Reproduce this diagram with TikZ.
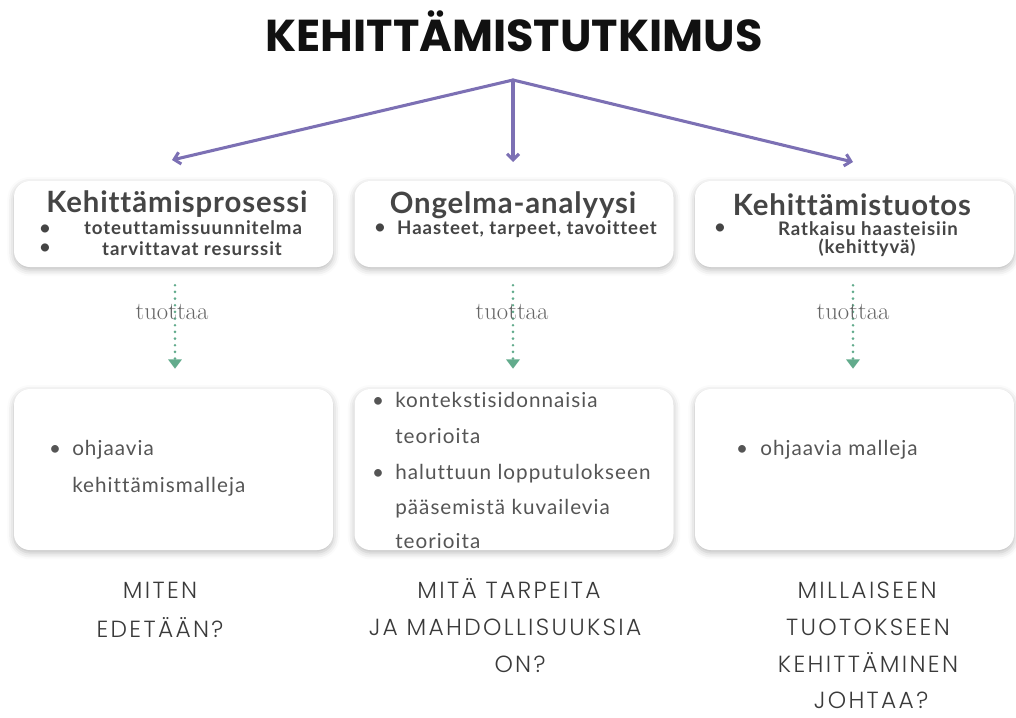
\documentclass[tikz,border=0pt]{standalone}
\usepackage{fontspec}
\setmainfont{Lato}[Ligatures={NoCommon}]
\newfontfamily\titlefont{Poppins}
\newfontfamily\headfont{Lato}[LetterSpace=3, Ligatures={NoCommon}]
\newfontfamily\subfont{Lato}[LetterSpace=5, Ligatures={NoCommon}]
\newfontfamily\bodyfont{Lato}[LetterSpace=5, Ligatures={NoCommon}]
\newfontfamily\capsfont{Poppins Light}[LetterSpace=10]
\newfontfamily\verbfont{Latin Modern Roman}
\usetikzlibrary{shadows.blur,arrows.meta}
\definecolor{titleink}{HTML}{111111}
\definecolor{headink}{HTML}{454545}
\definecolor{bodyink}{HTML}{555555}
\definecolor{askink}{HTML}{3A3A3A}
\definecolor{flow}{HTML}{7C70B4}
\definecolor{yield}{HTML}{62AB8C}
\tikzset{
  card/.style={draw=none, fill=white, rounded corners=12pt,
    minimum width=239.25pt, inner sep=0pt,
    blur shadow={shadow xshift=0pt, shadow yshift=-2pt,
      shadow blur radius=5pt, shadow opacity=28}},
  topcard/.style={card, minimum height=64.5pt},
  lowcard/.style={card, minimum height=120.75pt},
  head/.style={anchor=base, text=headink, font=\headfont\bfseries\fontsize{22}{26}\selectfont, inner sep=0pt},
  sub/.style={anchor=base, text=headink, font=\subfont\bfseries\fontsize{14}{16}\selectfont, inner sep=0pt},
  body/.style={anchor=base west, text=bodyink, font=\bodyfont\fontsize{15.5}{18}\selectfont, inner sep=0pt},
  dotb/.style={anchor=base, text=bodyink, font=\fontsize{15.5}{18}\selectfont, inner sep=0pt},
  ask/.style={anchor=base, text=askink, font=\capsfont\fontsize{17.5}{21}\selectfont, inner sep=0pt},
  verb/.style={anchor=base, text=bodyink!90, font=\verbfont\fontsize{18.5}{22}\selectfont, inner sep=0pt},
  branch/.style={draw=flow, line width=2.3pt, line cap=round, line join=round,
    -{Straight Barb[length=4.5pt,width=9pt,line width=2.3pt]}},
  produces/.style={draw=yield, line width=2.2pt, line cap=round,
    dash pattern=on 0pt off 5pt,
    -{Triangle[length=7pt,width=10pt,line cap=butt]}},
}
\begin{document}
\begin{tikzpicture}[x=0.75pt,y=-0.75pt]
\useasboundingbox (0,0) rectangle (1016,717);

% title and its three branches
\node[anchor=base, text=titleink, inner sep=0pt,
  font=\titlefont\bfseries\fontsize{33.5}{38}\selectfont] (title) at (514,52) {KEHITTÄMISTUTKIMUS};
\coordinate (hub) at (513,80);
\coordinate (tipA) at (172,160);
\coordinate (tipB) at (513,162);
\coordinate (tipC) at (853,162);
\draw[branch] (hub) -- (tipA);
\draw[branch] (hub) -- (tipB);
\draw[branch] (hub) -- (tipC);

% upper cards
\node[topcard] (p1) at (173.5,224) {};
\node[topcard] (p2) at (514,224) {};
\node[topcard] (p3) at (854.5,224) {};

\node[head] (h1) at (177,212) {Kehittämisprosessi};
\node[sub] (b1a) at (45,234) {•};
\node[sub] (s1a) at (193,234) {toteuttamissuunnitelma};
\node[sub] (b1b) at (45,253) {•};
\node[sub] (s1b) at (192,255) {tarvittavat resurssit};

\node[head] (h2) at (513,213) {Ongelma-analyysi};
\node[sub] (b2a) at (380,233) {•};
\node[sub] (s2a) at (527,234) {Haasteet, tarpeet, tavoitteet};

\node[head] (h3) at (852,215) {Kehittämistuotos};
\node[sub] (b3a) at (720,233) {•};
\node[sub] (s3a) at (868,235) {Ratkaisu haasteisiin};
\node[sub] (s3b) at (867,253) {(kehittyvä)};

% lower cards
\node[lowcard] (q1) at (173.5,469.5) {};
\node[lowcard] (q2) at (514,469.5) {};
\node[lowcard] (q3) at (854.5,469.5) {};

% "tuottaa" links
\draw[produces, shorten <=13.5pt, shorten >=15pt] (p1.south -| 175,0) -- (q1.north -| 175,0);
\draw[produces, shorten <=13.5pt, shorten >=15pt] (p2.south -| 513,0) -- (q2.north -| 513,0);
\draw[produces, shorten <=13.5pt, shorten >=15pt] (p3.south -| 853,0) -- (q3.north -| 853,0);
\node[verb] (v1) at (172,319) {tuottaa};
\node[verb] (v2) at (512,319) {tuottaa};
\node[verb] (v3) at (853,319) {tuottaa};

% lower card contents
\node[dotb] (d1a) at (55,455) {•};
\node[body] (t1a) at (72,455) {ohjaavia};
\node[body] (t1b) at (72,492) {kehittämismalleja};

\node[dotb] (d2a) at (378,407) {•};
\node[body] (t2a) at (395,407) {kontekstisidonnaisia};
\node[body] (t2b) at (395,443) {teorioita};
\node[dotb] (d2b) at (378,479) {•};
\node[body] (t2c) at (395,479) {haluttuun lopputulokseen};
\node[body] (t2d) at (395,514) {pääsemistä kuvailevia};
\node[body] (t2e) at (395,548) {teorioita};

\node[dotb] (d3a) at (742,455) {•};
\node[body] (t3a) at (760,455) {ohjaavia malleja};

% guiding questions
\node[ask] (k1a) at (160,598) {MITEN};
\node[ask] (k1b) at (160,637) {EDETÄÄN?};

\node[ask] (k2a) at (509,598) {MITÄ TARPEITA};
\node[ask] (k2b) at (505,635) {JA MAHDOLLISUUKSIA};
\node[ask] (k2c) at (520,672) {ON?};

\node[ask] (k3a) at (867,598) {MILLAISEEN};
\node[ask] (k3b) at (868,635) {TUOTOKSEEN};
\node[ask] (k3c) at (868,672) {KEHITTÄMINEN};
\node[ask] (k3d) at (871,708) {JOHTAA?};
\end{tikzpicture}
\end{document}
